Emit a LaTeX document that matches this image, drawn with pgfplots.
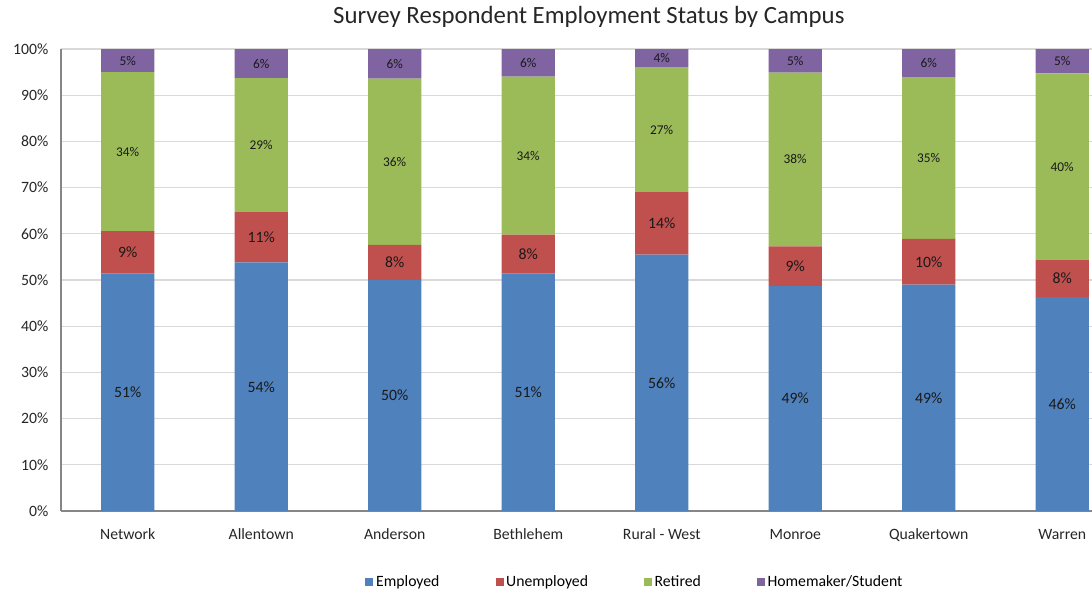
\documentclass[border=0pt]{standalone}
\usepackage{pgfplots}
\pgfplotsset{compat=1.18}
\usepackage{pgfplotstable}
\usepackage{fontspec}
\setmainfont{Carlito}
\usetikzlibrary{calc}

\definecolor{cEmp}{HTML}{4F81BD}
\definecolor{cUne}{HTML}{C0504D}
\definecolor{cRet}{HTML}{9BBB59}
\definecolor{cHom}{HTML}{8064A2}
\definecolor{cGrid}{HTML}{D9D9D9}
\definecolor{cAxis}{HTML}{868686}

% segment heights (%) and the rounded labels shown in the bars
\pgfplotstableread{
x emp lemp une lune ret lret hom lhom
0 51.4 51  9.2  9 34.4 34 5.0 5
1 53.8 54 10.9 11 29.0 29 6.3 6
2 50.0 50  7.6  8 36.0 36 6.4 6
3 51.4 51  8.4  8 34.2 34 6.0 6
4 55.5 56 13.5 14 27.1 27 3.9 4
5 48.7 49  8.6  9 37.6 38 5.1 5
6 49.0 49  9.9 10 35.0 35 6.1 6
7 46.3 46  8.1  8 40.3 40 5.3 5
}\campus

\begin{document}
\begin{tikzpicture}
\begin{axis}[
    name=A,
    scale only axis,
    width=773.25pt, height=346.5pt,
    ybar stacked, bar width=0.4,
    xmin=-0.5, xmax=7.223,
    ymin=0, ymax=100,
    xtick={0,...,7},
    xticklabels={Network,Allentown,Anderson,Bethlehem,Rural - West,Monroe,Quakertown,Warren},
    ytick={0,10,...,100},
    yticklabel={\pgfmathprintnumber{\tick}\%},
    /pgf/number format/assume math mode=true,
    tick label style={font=\fontsize{11.8}{13}\selectfont, text=black!85},
    y tick label style={xshift=-6pt},
    x tick label style={yshift=-10pt},
    major tick length=0pt,
    axis x line*=bottom, axis y line*=left,
    axis line style={draw=cAxis, line width=0.9pt, -},
    ymajorgrids, grid style={draw=cGrid, line width=0.8pt},
    title={Survey Respondent Employment Status by Campus},
    title style={at={(axis description cs:0.512,1.052)}, anchor=center,
        font=\fontsize{18.6}{21}\selectfont, text=black!85},
    legend style={at={(axis description cs:0.557,-0.154)}, anchor=center,
        draw=none, legend columns=4, font=\fontsize{11.8}{13}\selectfont,
        /tikz/every even column/.append style={column sep=40pt}},
    legend image code/.code={\path[#1,draw=none] (0pt,-3pt) rectangle (6pt,3pt);},
    point meta=explicit symbolic,
    nodes near coords={\pgfplotspointmeta\%},
    every node near coord/.append style={anchor=center, text=black!90},
]
\addplot[fill=cEmp, draw=none,
    every node near coord/.append style={font=\fontsize{11.8}{13}\selectfont}]
    table[x=x, y=emp, meta=lemp]{\campus};
\addlegendentry{Employed}
\addplot[fill=cUne, draw=none,
    every node near coord/.append style={font=\fontsize{11.8}{13}\selectfont}]
    table[x=x, y=une, meta=lune]{\campus};
\addlegendentry{Unemployed}
\addplot[fill=cRet, draw=none,
    every node near coord/.append style={font=\fontsize{10}{12}\selectfont}]
    table[x=x, y=ret, meta=lret]{\campus};
\addlegendentry{Retired}
\addplot[fill=cHom, draw=none,
    every node near coord/.append style={font=\fontsize{10}{12}\selectfont}]
    table[x=x, y=hom, meta=lhom]{\campus};
\addlegendentry{Homemaker/Student}
\end{axis}
\pgfresetboundingbox
\path ($(A.south west)+(-45.75pt,-62.25pt)$) rectangle ($(A.north east)+(0pt,36.75pt)$);
\end{tikzpicture}
\end{document}
